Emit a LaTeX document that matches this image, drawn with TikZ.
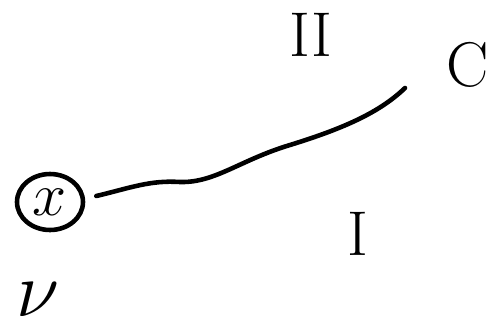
\documentclass[tikz,border=0pt]{standalone}
\usepackage{tikz}
\usepackage{amsmath}
\usetikzlibrary{shapes.geometric}

\tikzset{
  pen/.style={line width=2.6pt, line cap=round, line join=round},
  mark label/.style={inner sep=0pt, font=\fontsize{36}{36}\selectfont},
}

\begin{document}
\begin{tikzpicture}[x=0.02cm, y=-0.02cm]
    \useasboundingbox (0,0) rectangle (499,334);

    \node[mark label] (two) at (311, 35) {II};
    \node[mark label] (cpt) at (468, 65) {C};
    \node[mark label] (one) at (358, 234) {I};
    \node[mark label] (nu) at (38, 300) {\scalebox{1.8}{$\nu$}};

    \node[pen, draw, ellipse, inner sep=0pt,
      minimum width=1.32cm, minimum height=1.12cm,
      font=\fontsize{24}{24}\selectfont] (xpt) at (50, 202) {\scalebox{1.4}{$x$}};

    \coordinate (cend) at (405, 88);
    \draw[pen] ([xshift=0.22cm, yshift=0.12cm]xpt.east) .. controls (130, 188) and (150, 180) .. (180, 182)
      .. controls (215, 183) and (240, 160) .. (290, 145)
      .. controls (345, 128) and (380, 112) .. (cend);
  \end{tikzpicture}
\end{document}
